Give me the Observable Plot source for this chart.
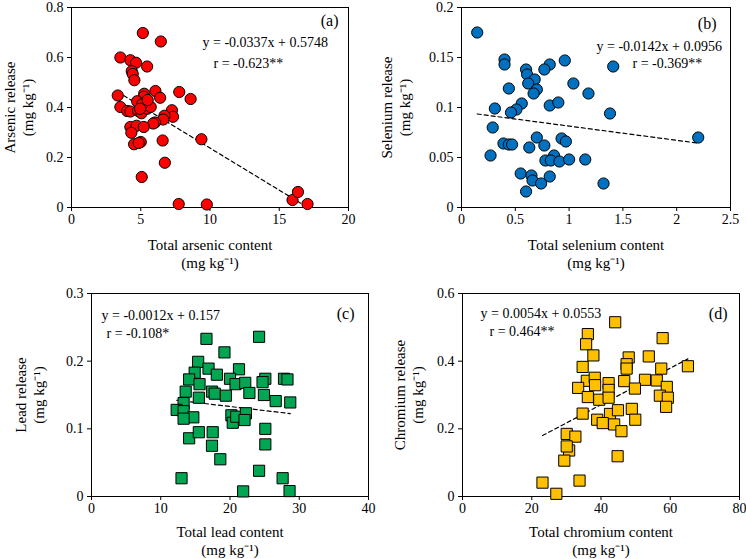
<!DOCTYPE html>
<html>
<head>
<meta charset="utf-8">
<script src="https://cdn.jsdelivr.net/npm/d3@7"></script>
<script src="https://cdn.jsdelivr.net/npm/@observablehq/plot@0.6"></script>
<style>
  html, body { margin: 0; padding: 0; background: #fff; }
  #chart { position: relative; width: 746px; height: 559px; background: #fff; }
  #chart svg { position: absolute; }
</style>
</head>
<body>
<div id="chart"></div>
<script>
// (a) Arsenic: total content vs release (mg kg-1)
const arsenicTotal = [5.15, 6.45, 3.53, 4.25, 4.66, 5.46, 4.35, 4.42, 4.54, 3.34, 6.06, 7.78, 8.60, 6.40, 5.25, 5.22, 4.74, 3.53, 4.02, 4.25, 4.80, 5.05, 5.46, 5.72, 7.25, 7.33, 6.71, 6.62, 6.03, 5.90, 4.25, 4.70, 5.22, 4.32, 9.38, 6.58, 5.00, 4.52, 4.85, 6.74, 5.07, 7.74, 9.77, 15.96, 16.35, 17.04, 5.10, 5.50, 4.95];
const arsenicRelease = [0.698, 0.664, 0.600, 0.589, 0.579, 0.564, 0.545, 0.534, 0.509, 0.448, 0.466, 0.462, 0.434, 0.439, 0.455, 0.443, 0.425, 0.402, 0.386, 0.384, 0.387, 0.377, 0.395, 0.402, 0.389, 0.363, 0.367, 0.352, 0.340, 0.336, 0.322, 0.327, 0.322, 0.299, 0.273, 0.268, 0.262, 0.253, 0.258, 0.179, 0.122, 0.014, 0.012, 0.030, 0.062, 0.014, 0.413, 0.430, 0.395];

// (b) Selenium
const seleniumTotal = [0.146, 0.40, 0.40, 0.60, 0.82, 0.96, 0.77, 1.41, 0.61, 0.68, 0.62, 1.04, 0.44, 0.70, 0.67, 1.18, 0.56, 0.82, 0.90, 0.51, 0.46, 0.31, 1.38, 0.29, 2.20, 0.39, 0.44, 0.47, 0.63, 0.70, 0.77, 0.93, 0.97, 0.27, 0.86, 0.78, 0.83, 0.91, 1.00, 1.15, 0.55, 0.65, 0.66, 0.82, 0.74, 1.32, 0.60];
const seleniumRelease = [0.175, 0.148, 0.143, 0.138, 0.143, 0.147, 0.138, 0.141, 0.133, 0.128, 0.124, 0.124, 0.119, 0.118, 0.114, 0.114, 0.104, 0.102, 0.105, 0.098, 0.095, 0.099, 0.094, 0.080, 0.070, 0.064, 0.063, 0.063, 0.060, 0.070, 0.062, 0.069, 0.066, 0.052, 0.052, 0.047, 0.047, 0.046, 0.048, 0.048, 0.034, 0.032, 0.027, 0.031, 0.024, 0.024, 0.016];

// (c) Lead
const leadTotal = [16.6, 24.2, 19.2, 15.4, 16.9, 21.3, 14.9, 18.1, 14.1, 20.0, 25.1, 27.8, 28.3, 15.6, 20.8, 22.2, 24.7, 13.6, 17.4, 17.8, 22.8, 19.4, 24.9, 26.6, 28.7, 15.5, 13.3, 12.3, 13.3, 14.7, 13.3, 20.2, 20.4, 20.9, 22.3, 22.1, 25.1, 14.1, 15.5, 17.5, 17.4, 25.1, 18.6, 24.2, 13.0, 27.6, 21.9, 28.6];
const leadRelease = [0.233, 0.236, 0.213, 0.199, 0.189, 0.188, 0.183, 0.180, 0.173, 0.174, 0.174, 0.174, 0.173, 0.166, 0.166, 0.168, 0.169, 0.155, 0.155, 0.152, 0.153, 0.149, 0.150, 0.141, 0.139, 0.146, 0.138, 0.128, 0.126, 0.117, 0.115, 0.120, 0.109, 0.118, 0.123, 0.113, 0.100, 0.086, 0.095, 0.095, 0.075, 0.077, 0.055, 0.038, 0.027, 0.027, 0.0075, 0.008];

// (d) Chromium
const chromiumTotal = [44.1, 36.2, 35.7, 57.8, 37.8, 53.8, 48.0, 34.7, 47.4, 47.4, 65.1, 57.4, 35.9, 38.2, 46.7, 52.7, 56.1, 42.2, 33.4, 38.3, 42.2, 49.8, 59.0, 36.2, 39.5, 42.2, 57.0, 59.3, 34.7, 42.6, 44.9, 48.9, 58.8, 38.9, 40.5, 43.8, 49.9, 30.1, 32.6, 45.9, 30.8, 30.1, 29.4, 44.8, 23.1, 33.8, 27.1];
const chromiumRelease = [0.515, 0.480, 0.450, 0.468, 0.417, 0.414, 0.411, 0.383, 0.391, 0.378, 0.385, 0.378, 0.342, 0.351, 0.341, 0.345, 0.343, 0.335, 0.321, 0.329, 0.315, 0.319, 0.324, 0.294, 0.286, 0.292, 0.298, 0.292, 0.245, 0.244, 0.255, 0.259, 0.265, 0.227, 0.217, 0.213, 0.227, 0.185, 0.177, 0.193, 0.136, 0.148, 0.106, 0.119, 0.041, 0.047, 0.008];

// Linear fits: [slope, intercept]
const arsenicFit = [-0.0337, 0.5748];
const seleniumFit = [-0.0142, 0.0956];
const leadFit = [-0.0012, 0.157];
const chromiumFit = [0.0054, 0.0553];

const fmt = d => String(Math.round(d * 1000) / 1000);

function panel(o) {
  const data = o.xs.map((x, i) => ({x, y: o.ys[i]}));
  const [x0, x1] = d3.extent(o.xs);
  const fitLine = [x0, x1].map(x => ({x, y: o.fit[0] * x + o.fit[1]}));
  const txt = {fill: "#000", lineAnchor: "middle"};
  const svg = Plot.plot({
    width: o.width,
    height: o.height,
    marginLeft: o.ml, marginRight: o.mr, marginTop: o.mt, marginBottom: o.mb,
    style: {fontFamily: "Liberation Serif", fontSize: "14px", color: "#000", background: "transparent", overflow: "visible"},
    x: {domain: o.xDomain},
    y: {domain: o.yDomain},
    marks: [
      Plot.frame({stroke: "#000", strokeWidth: 1}),
      Plot.axisX({ticks: o.xTicks, tickSize: 4, tickPadding: 3, tickFormat: fmt, label: null, fontSize: 14, stroke: "#000", fill: "#000"}),
      Plot.axisY({ticks: o.yTicks, tickSize: 4, tickPadding: 4, tickFormat: fmt, label: null, fontSize: 14, stroke: "#000", fill: "#000"}),
      Plot.line(fitLine, {x: "x", y: "y", stroke: "#000", strokeWidth: 1.2, strokeDasharray: "4,3"}),
      Plot.dot(data, {x: "x", y: "y", r: o.r, symbol: o.symbol, fill: o.fill, stroke: "#000", strokeWidth: 1}),
      Plot.text([o.yTitle], {...txt, frameAnchor: "left", textAnchor: "middle", rotate: -90, dx: o.yTitleDx, lineHeight: 1.2, fontSize: 15}),
      Plot.text([o.xTitle], {...txt, frameAnchor: "bottom", textAnchor: "middle", dy: o.xTitleDy, lineHeight: 1.2, fontSize: 15}),
      Plot.text([o.eq], {...txt, frameAnchor: "top-left", textAnchor: "start", dx: o.eqPos[0], dy: o.eqPos[1], fontSize: 14}),
      Plot.text([o.rText], {...txt, frameAnchor: "top-left", textAnchor: "start", dx: o.rPos[0], dy: o.rPos[1], fontSize: 14}),
      Plot.text([o.tag], {...txt, frameAnchor: "top-right", textAnchor: "end", dx: o.tagPos[0], dy: o.tagPos[1], fontSize: 16})
    ]
  });
  svg.style.left = o.left + "px";
  svg.style.top = o.top + "px";
  document.getElementById("chart").appendChild(svg);
}

panel({
  xs: arsenicTotal, ys: arsenicRelease, fit: arsenicFit,
  left: 0, top: 0, width: 373, height: 280, ml: 71, mr: 25, mt: 7, mb: 73,
  xDomain: [0, 20], xTicks: 4, yDomain: [0, 0.8], yTicks: 4,
  r: 5.6, symbol: "circle", fill: "#ff0000",
  yTitle: "Arsenic release\n(mg kg⁻¹)", yTitleDx: -53,
  xTitle: "Total arsenic content\n(mg kg⁻¹)", xTitleDy: 46,
  eq: "y = -0.0337x + 0.5748", eqPos: [131, 35],
  rText: "r = -0.623**", rPos: [142, 56],
  tag: "(a)", tagPos: [-10, 13]
});

panel({
  xs: seleniumTotal, ys: seleniumRelease, fit: seleniumFit,
  left: 373, top: 0, width: 373, height: 280, ml: 88, mr: 16, mt: 7, mb: 73,
  xDomain: [0, 2.5], xTicks: 5, yDomain: [0, 0.2], yTicks: 4,
  r: 5.6, symbol: "circle", fill: "#0070c0",
  yTitle: "Selenium release\n(mg kg⁻¹)", yTitleDx: -66,
  xTitle: "Total selenium content\n(mg kg⁻¹)", xTitleDy: 46,
  eq: "y = -0.0142x + 0.0956", eqPos: [135, 39],
  rText: "r = -0.369**", rPos: [171, 56],
  tag: "(b)", tagPos: [-14, 16]
});

panel({
  xs: leadTotal, ys: leadRelease, fit: leadFit,
  left: 0, top: 280, width: 373, height: 279, ml: 91, mr: 5, mt: 13, mb: 63,
  xDomain: [0, 40], xTicks: 4, yDomain: [0, 0.3], yTicks: 3,
  r: 6.3, symbol: "square", fill: "#00a651",
  yTitle: "Lead release\n(mg kg⁻¹)", yTitleDx: -62,
  xTitle: "Total lead content\n(mg kg⁻¹)", xTitleDy: 44,
  eq: "y = -0.0012x + 0.157", eqPos: [10, 22],
  rText: "r = -0.108*", rPos: [15, 40],
  tag: "(c)", tagPos: [-14, 20]
});

panel({
  xs: chromiumTotal, ys: chromiumRelease, fit: chromiumFit,
  left: 373, top: 280, width: 373, height: 279, ml: 89, mr: 7, mt: 13, mb: 63,
  xDomain: [0, 80], xTicks: 4, yDomain: [0, 0.6], yTicks: 3,
  r: 6.3, symbol: "square", fill: "#ffc000",
  yTitle: "Chromium release\n(mg kg⁻¹)", yTitleDx: -54,
  xTitle: "Total chromium content\n(mg kg⁻¹)", xTitleDy: 44,
  eq: "y = 0.0054x + 0.0553", eqPos: [18, 20],
  rText: "r = 0.464**", rPos: [27, 38],
  tag: "(d)", tagPos: [-12, 20]
});
</script>
</body>
</html>
